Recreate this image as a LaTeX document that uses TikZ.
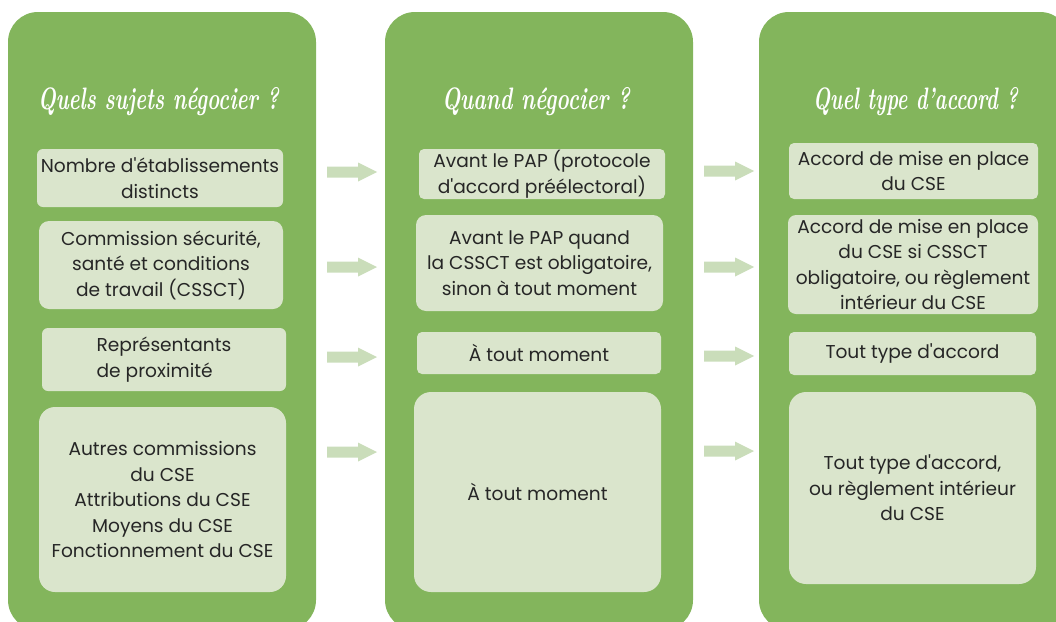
\documentclass[tikz,border=0pt]{standalone}
\usepackage{fontspec}
\usepackage{graphicx}
\newfontfamily\bodyfont{Poppins}
\definecolor{panelgreen}{HTML}{83B55C}
\definecolor{boxgreen}{HTML}{DAE5CC}
\definecolor{arrowgreen}{HTML}{CADDBA}
\definecolor{txt}{HTML}{262626}
\tikzset{
  panel/.style={fill=panelgreen, rounded corners=30pt},
  ibox/.style={fill=boxgreen, inner sep=0pt, align=center, text=txt,
    font=\bodyfont\fontsize{18.6}{25.5}\selectfont},
  ptitle/.style={text=white, font=\bfseries\itshape\fontsize{31}{34}\selectfont},
  blockarrow/.style={fill=arrowgreen}
}
\newcommand\blockarr[1]{\fill[blockarrow] (#1) ++(-25,-5.5) -- ++(31,0) -- ++(0,-4) -- ++(19,9.5) -- ++(-19,9.5) -- ++(0,-4) -- ++(-31,0) -- cycle;}
\newcommand\fitw[2]{\resizebox{#1}{\height}{#2}}
\begin{document}
\begin{tikzpicture}[x=1pt,y=-1pt]
\useasboundingbox (0,0) rectangle (1056,621);
\clip (0,0) rectangle (1056,621);
% panels
\fill[panel] (8,12) rectangle (316,630);
\fill[panel] (385,12) rectangle (693,630);
\fill[panel] (759,12) rectangle (1070,630);
% titles
\node[ptitle] (t1) at (158.5,102) {\fitw{241pt}{Quels sujets négocier ?}};
\node[ptitle] (t2) at (536,102) {\fitw{188pt}{Quand négocier ?}};
\node[ptitle] (t3) at (915.5,102) {\fitw{205pt}{Quel type d'accord ?}};
% column 1
\node[ibox, rounded corners=6pt, minimum width=246pt, minimum height=58pt] (b11) at (160,178) {Nombre d'établissements\\distincts};
\node[ibox, rounded corners=10pt, minimum width=244pt, minimum height=88pt] (b12) at (161,265) {Commission sécurité,\\santé et conditions\\de travail (CSSCT)};
\node[ibox, rounded corners=6pt, minimum width=244pt, minimum height=63pt] (b13) at (164,359.5) {\begin{tabular}{@{}l@{}}Représentants\\de proximité\end{tabular}};
\node[ibox, rounded corners=16pt, minimum width=247pt, minimum height=185pt] (b14) at (162.5,499.5) {Autres commissions\\du CSE\\Attributions du CSE\\Moyens du CSE\\Fonctionnement du CSE};
% column 2
\node[ibox, rounded corners=5pt, minimum width=246pt, minimum height=50pt] (b21) at (542,174) {Avant le PAP (protocole\\d'accord préélectoral)};
\node[ibox, rounded corners=10pt, minimum width=247pt, minimum height=96pt] (b22) at (539.5,263) {Avant le PAP quand\\la CSSCT est obligatoire,\\sinon à tout moment};
\node[ibox, rounded corners=5pt, minimum width=244pt, minimum height=42pt] (b23) at (539,353) {À tout moment};
\node[ibox, rounded corners=17pt, minimum width=247pt, minimum height=200pt] (b24) at (537.5,492) {À tout moment};
% column 3
\node[ibox, rounded corners=5pt, minimum width=249pt, minimum height=56pt] (b31) at (913.5,171) {Accord de mise en place\\du CSE};
\node[ibox, rounded corners=8pt, minimum width=250pt, minimum height=99pt] (b32) at (913,264.5) {Accord de mise en place\\du CSE si CSSCT\\obligatoire, ou règlement\\intérieur du CSE};
\node[ibox, rounded corners=5pt, minimum width=247pt, minimum height=43pt] (b33) at (912.5,353.5) {Tout type d'accord};
\node[ibox, rounded corners=17pt, minimum width=247pt, minimum height=192pt] (b34) at (912.5,488) {Tout type d'accord,\\ou règlement intérieur\\du CSE};
% arrows
\coordinate (a1) at (352,172);
\coordinate (a2) at (352,267);
\coordinate (a3) at (352,357);
\coordinate (a4) at (352,452);
\coordinate (a5) at (729,171);
\coordinate (a6) at (729,267);
\coordinate (a7) at (729,356);
\coordinate (a8) at (729,451);
\blockarr{a1}\blockarr{a2}\blockarr{a3}\blockarr{a4}
\blockarr{a5}\blockarr{a6}\blockarr{a7}\blockarr{a8}
\end{tikzpicture}
\end{document}
